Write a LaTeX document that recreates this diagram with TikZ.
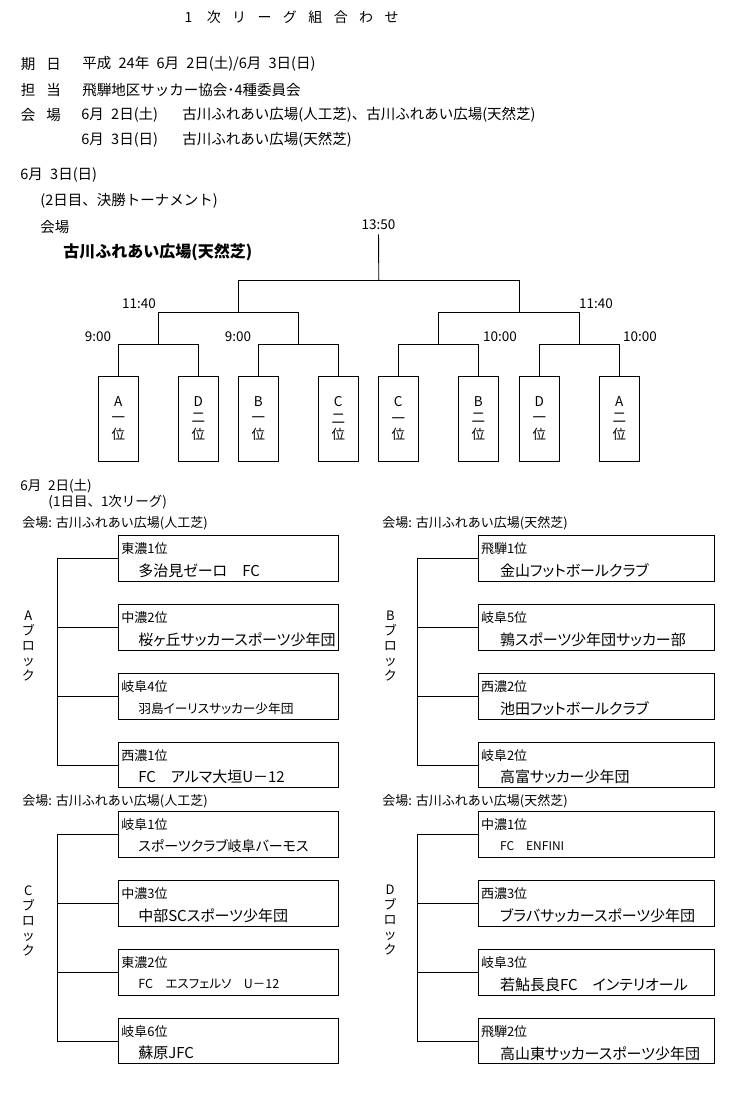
\documentclass[tikz,border=0pt]{standalone}
\usepackage{fontspec}
\setmainfont{Noto Sans CJK JP}
\newfontfamily\pgoth{Noto Sans CJK JP}[RawFeature=+palt]

\begin{document}
\begin{tikzpicture}[x=1pt,y=-1pt,line width=0.9pt,
    hd/.style={anchor=west,inner sep=0pt,font=\fontsize{14.5}{17}\selectfont},
    sm/.style={anchor=west,inner sep=0pt,font=\fontsize{13.5}{16}\selectfont},
    tm/.style={inner sep=0pt,font=\fontsize{13.5}{16}\selectfont},
    seed/.style={draw,minimum width=40,minimum height=85,inner sep=0pt,align=center,font=\fontsize{13.5}{16.5}\selectfont},
    tbox/.style={draw,minimum height=45.5,inner sep=0pt},
    rank/.style={anchor=west,inner sep=0pt,font=\fontsize{13}{15}\selectfont},
    team/.style={anchor=west,inner sep=0pt},
    blk/.style={align=center,inner sep=0pt,font=\fontsize{13}{15}\selectfont}]

  \useasboundingbox (0,0) rectangle (744,1097);
  \fill[white] (0,0) rectangle (744,1097);

  % header
  \node[inner sep=0pt,font=\fontsize{14}{16}\selectfont] (title) at (290,17)
    {\foreach \c in {1,次,リ,ー,グ,組,合,わ,せ}{\makebox[25.4pt]{\c}}};
  \node[hd] (kijitsu) at (20.5,64) {期\hspace{0.75em}日};
  \node[hd] (date) at (82,64) {平成\enspace 24年\enspace 6月\enspace 2日(土)/6月\enspace 3日(日)};
  \node[hd] (tanto) at (20.5,90) {担\hspace{0.75em}当};
  \node[hd] (org) at (82,90) {飛騨地区サッカー協会･4種委員会};
  \node[hd] (kaijo) at (20.5,115) {会\hspace{0.75em}場};
  \node[hd] (day1) at (81,115) {6月\enspace 2日(土)};
  \node[hd] (ven1) at (182,115) {古川ふれあい広場(人工芝)、古川ふれあい広場(天然芝)};
  \node[hd] (day2) at (81,140) {6月\enspace 3日(日)};
  \node[hd] (ven2) at (182,140) {古川ふれあい広場(天然芝)};

  % 2nd day
  \node[hd] (sun) at (20,175) {6月\enspace 3日(日)};
  \node[hd] (final) at (40,201) {(2日目、決勝トーナメント)};
  \node[hd] (kaijoF) at (40,227) {会場};
  \node[hd,font=\fontsize{16}{18}\selectfont\bfseries] (venF) at (63,252) {古川ふれあい広場(天然芝)};

  \foreach \x/\grp/\rk [count=\i] in {118.3/A/一, 198.3/D/二, 258.3/B/一, 338.3/C/二,
      398.3/C/一, 478.3/B/二, 539.3/D/一, 619.3/A/二}
    \node[seed] (s\i) at (\x,418.5) {\grp\\\rk\\位};

  \node[tm] (t1) at (98,337) {9:00};
  \node[tm] (t2) at (238,337) {9:00};
  \node[tm] (t3) at (500,337) {10:00};
  \node[tm] (t4) at (640,337) {10:00};
  \node[tm] (t5) at (139,304) {11:40};
  \node[tm] (t6) at (596,304) {11:40};
  \node[tm] (t7) at (378.5,225) {13:50};

  \coordinate (m1) at (158.3,344.3);
  \coordinate (m2) at (298.3,344.3);
  \coordinate (m3) at (438.3,344.3);
  \coordinate (m4) at (579.3,344.3);
  \coordinate (q1) at (238.3,312.3);
  \coordinate (q2) at (519.3,312.3);
  \coordinate (fin) at (378.8,280.3);

  \draw (s1.north) |- (m1) -| (s2.north);
  \draw (s3.north) |- (m2) -| (s4.north);
  \draw (s5.north) |- (m3) -| (s6.north);
  \draw (s7.north) |- (m4) -| (s8.north);
  \draw (m1) |- (q1) -| (m2);
  \draw (m3) |- (q2) -| (m4);
  \draw (q1) |- (fin) -| (q2);
  \draw[shorten >=4pt] (fin) -- (t7.south);

  % 1st day
  \node[sm] (sat) at (20,486) {6月\enspace 2日(土)};
  \node[sm] (league) at (48,502) {(1日目、1次リーグ)};

  \begin{scope}[shift={(118.3,535.7)}]
    \node[sm,font=\fontsize{13}{16}\selectfont] (vA) at (-96.3,-12.7) {会場: 古川ふれあい広場(人工芝)};
    \node[blk] (lA) at (-90,110.5) {A\\ブ\\ロ\\ッ\\ク};
    \foreach \rk/\nm/\fs [count=\i] in {東濃1位/多治見ゼーロ　FC/15, 中濃2位/桜ヶ丘サッカースポーツ少年団/15,
        岐阜4位/羽島イーリスサッカー少年団/12.7, 西濃1位/FC　アルマ大垣U－12/15}{
      \node[tbox,minimum width=220] (A\i) at (110,{(\i-1)*68.9+22.75}) {};
      \node[rank] at ([shift={(3pt,-13.3pt)}]A\i.north west) {\rk};
      \node[team,font=\pgoth\fontsize{\fs}{19}\selectfont] at ([shift={(20pt,-35.3pt)}]A\i.north west) {\nm};
    }
    \draw (A1.west) -- ++(-60,0) |- (A4.west);
    \draw (A2.west) -- ++(-60,0);
    \draw (A3.west) -- ++(-60,0);
  \end{scope}

  \begin{scope}[shift={(478,535.7)}]
    \node[sm,font=\fontsize{13}{16}\selectfont] (vB) at (-96,-12.7) {会場: 古川ふれあい広場(天然芝)};
    \node[blk] (lB) at (-87.7,110.5) {B\\ブ\\ロ\\ッ\\ク};
    \foreach \rk/\nm/\fs [count=\i] in {飛騨1位/金山フットボールクラブ/15, 岐阜5位/鶉スポーツ少年団サッカー部/15,
        西濃2位/池田フットボールクラブ/15, 岐阜2位/高富サッカー少年団/15}{
      \node[tbox,minimum width=236.7] (B\i) at (118.35,{(\i-1)*68.9+22.75}) {};
      \node[rank] at ([shift={(3pt,-13.3pt)}]B\i.north west) {\rk};
      \node[team,font=\pgoth\fontsize{\fs}{19}\selectfont] at ([shift={(22pt,-35.3pt)}]B\i.north west) {\nm};
    }
    \draw (B1.west) -- ++(-60,0) |- (B4.west);
    \draw (B2.west) -- ++(-60,0);
    \draw (B3.west) -- ++(-60,0);
  \end{scope}

  \begin{scope}[shift={(118.3,811.7)}]
    \node[sm,font=\fontsize{13}{16}\selectfont] (vC) at (-96.3,-10) {会場: 古川ふれあい広場(人工芝)};
    \node[blk] (lC) at (-90,108.8) {C\\ブ\\ロ\\ッ\\ク};
    \foreach \rk/\nm/\fs [count=\i] in {岐阜1位/スポーツクラブ岐阜バーモス/14, 中濃3位/中部SCスポーツ少年団/15,
        東濃2位/FC　エスフェルソ　U－12/12.5, 岐阜6位/蘇原JFC/15}{
      \node[tbox,minimum width=220] (C\i) at (110,{(\i-1)*68.9+22.75}) {};
      \node[rank] at ([shift={(3pt,-13.3pt)}]C\i.north west) {\rk};
      \node[team,font=\pgoth\fontsize{\fs}{19}\selectfont] at ([shift={(20pt,-35.3pt)}]C\i.north west) {\nm};
    }
    \draw (C1.west) -- ++(-60,0) |- (C4.west);
    \draw (C2.west) -- ++(-60,0);
    \draw (C3.west) -- ++(-60,0);
  \end{scope}

  \begin{scope}[shift={(478,811.7)}]
    \node[sm,font=\fontsize{13}{16}\selectfont] (vD) at (-96,-10) {会場: 古川ふれあい広場(天然芝)};
    \node[blk] (lD) at (-88,108.8) {D\\ブ\\ロ\\ッ\\ク};
    \foreach \rk/\nm/\fs [count=\i] in {中濃1位/FC　ENFINI/12, 西濃3位/ブラバサッカースポーツ少年団/15,
        岐阜3位/若鮎長良FC　インテリオール/15, 飛騨2位/高山東サッカースポーツ少年団/15}{
      \node[tbox,minimum width=236.7] (D\i) at (118.35,{(\i-1)*68.9+22.75}) {};
      \node[rank] at ([shift={(3pt,-13.3pt)}]D\i.north west) {\rk};
      \node[team,font=\pgoth\fontsize{\fs}{19}\selectfont] at ([shift={(22pt,-35.3pt)}]D\i.north west) {\nm};
    }
    \draw (D1.west) -- ++(-60,0) |- (D4.west);
    \draw (D2.west) -- ++(-60,0);
    \draw (D3.west) -- ++(-60,0);
  \end{scope}
\end{tikzpicture}
\end{document}
